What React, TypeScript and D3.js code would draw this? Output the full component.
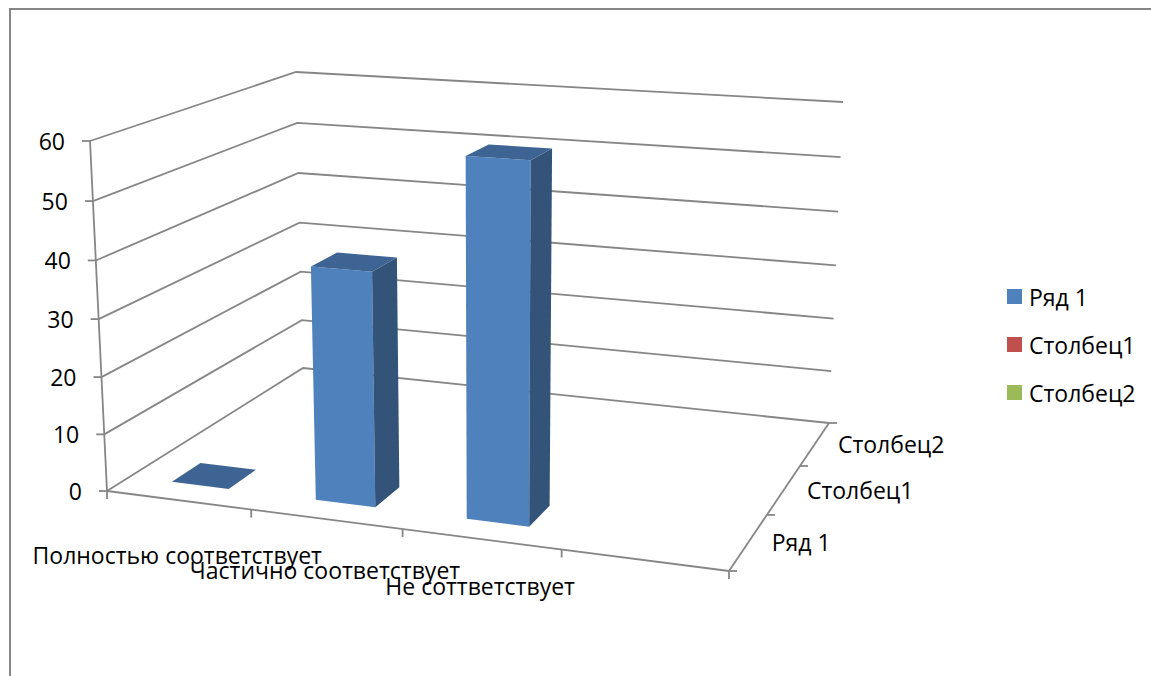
import React from "react";
import * as d3 from "d3";

const categories = ["Полностью соответствует", "Частично соответствует", "Не соттветствует", ""];
const seriesNames = ["Ряд 1", "Столбец1", "Столбец2"];
const seriesColors = ["#4F81BD", "#C0504D", "#9BBB59"];
const row1Values = [0, 40, 60];
const column1Values: number[] = [];
const column2Values: number[] = [];
const valueTicks = [0, 10, 20, 30, 40, 50, 60];

const W = 1151;
const H = 676;
const LINE = "#868686";
const FONT = "'Open Sans', sans-serif";
const FS = 23;

type P = [number, number];

// Unit square to quad: p0 (0,0), p1 (1,0), p2 (1,1), p3 (0,1)
function homography(p0: P, p1: P, p2: P, p3: P) {
  const dx1 = p1[0] - p2[0], dy1 = p1[1] - p2[1];
  const dx2 = p3[0] - p2[0], dy2 = p3[1] - p2[1];
  const sx = p0[0] - p1[0] + p2[0] - p3[0], sy = p0[1] - p1[1] + p2[1] - p3[1];
  const det = dx1 * dy2 - dx2 * dy1;
  const g = (sx * dy2 - dx2 * sy) / det;
  const h = (dx1 * sy - sx * dy1) / det;
  const a = p1[0] - p0[0] + g * p1[0], b = p3[0] - p0[0] + h * p3[0];
  const d = p1[1] - p0[1] + g * p1[1], e = p3[1] - p0[1] + h * p3[1];
  return (s: number, t: number): P => {
    const w = g * s + h * t + 1;
    return [(a * s + b * t + p0[0]) / w, (d * s + e * t + p0[1]) / w];
  };
}

const floor = homography([107, 491], [729, 571], [829, 423], [303, 368]);
const ceiling = homography([90, 141], [738, 184.5], [843, 102], [296, 72]);
const valueScale = d3.scaleLinear().domain([0, 60]).range([0, 1]);
const TILT = 0.035; // vertical foreshortening of the 3D view
const heightFraction = (v: number) => {
  const u = valueScale(v);
  return (u * (1 - TILT)) / (1 - TILT * u);
};
const project = (s: number, t: number, v: number): P => {
  const a = floor(s, t), b = ceiling(s, t), k = heightFraction(v);
  return [a[0] + (b[0] - a[0]) * k, a[1] + (b[1] - a[1]) * k];
};

const catBand = d3.scaleBand<string>().domain(categories).range([0, 1]).paddingInner(0.6).paddingOuter(0.3);
const serBand = d3.scaleBand<string>().domain(seriesNames).range([0, 1]).paddingInner(0.6).paddingOuter(0.3);
const catStep = catBand.step();
const serStep = serBand.step();
const labelY = d3.scaleLinear().domain([500, 539]).range([555, 586]);

const path = d3.line<P>();
const poly = (pts: P[]) => path(pts)! + "Z";

const textProps = { fontFamily: FONT, fontSize: FS, fill: "#000", dominantBaseline: "central" as const };

function Bar({ cat, value }: { cat: string; value: number }) {
  const s0 = catBand(cat)!, s1 = s0 + catBand.bandwidth();
  const t0 = serBand(seriesNames[0])!, t1 = t0 + serBand.bandwidth();
  const front = [project(s0, t0, 0), project(s1, t0, 0), project(s1, t0, value), project(s0, t0, value)];
  const side = [project(s1, t0, 0), project(s1, t1, 0), project(s1, t1, value), project(s1, t0, value)];
  const top = [project(s0, t0, value), project(s1, t0, value), project(s1, t1, value), project(s0, t1, value)];
  return (
    <g>
      {value > 0 && <path d={poly(front)} fill="#4F81BD" />}
      {value > 0 && <path d={poly(side)} fill="#335379" />}
      <path d={poly(top)} fill="#3E6494" />
    </g>
  );
}

export default function App() {
  const seg = (a: P, b: P, w = 1.8) => <path d={path([a, b])!} fill="none" stroke={LINE} strokeWidth={w} />;
  return (
    <svg width={W} height={H} viewBox={`0 0 ${W} ${H}`} style={{ position: "fixed", left: 0, top: 0, background: "#fff" }}>
      {/* frame */}
      <path d={path([[10, H], [10, 9], [W, 9]])!} fill="none" stroke={LINE} strokeWidth={2} />

      {/* walls: gridlines */}
      {valueTicks.map((v) => (
        <path
          key={v}
          d={path([project(0, 0, v), project(0, 1, v), project(1, 1, v)])!}
          fill="none"
          stroke={LINE}
          strokeWidth={1.8}
        />
      ))}
      {/* axes */}
      {seg(project(0, 0, 0), project(0, 0, 60))}
      {seg(project(0, 0, 0), project(1, 0, 0))}
      {seg(project(1, 0, 0), project(1, 1, 0))}

      {/* value ticks + labels */}
      {valueTicks.map((v) => {
        const [x, y] = project(0, 0, v);
        return (
          <g key={v}>
            {seg([x - 8, y], [x, y])}
            <text {...textProps} x={x - 25} y={y} textAnchor="end">{v}</text>
          </g>
        );
      })}

      {/* category ticks + labels */}
      {d3.range(categories.length + 1).map((i) => {
        const [x, y] = project(i * catStep, 0, 0);
        return <g key={i}>{seg([x, y], [x, y + 8])}</g>;
      })}
      {categories.map((c) => {
        const [x, y] = project(catBand(c)! + catBand.bandwidth() / 2, 0, 0);
        return c ? (
          <text key={c} {...textProps} x={x - 1} y={labelY(y)} textAnchor="middle">{c}</text>
        ) : null;
      })}

      {/* depth ticks + labels */}
      {d3.range(seriesNames.length + 1).map((i) => {
        const [x, y] = project(1, i * serStep, 0);
        return <g key={i}>{seg([x, y], [x + 8, y])}</g>;
      })}
      {seriesNames.map((n) => {
        const [x, y] = project(1, serBand(n)! + serBand.bandwidth() / 2, 0);
        return <text key={n} {...textProps} x={x + 23} y={y} textAnchor="start">{n}</text>;
      })}

      {/* bars */}
      {row1Values.map((v, i) => <Bar key={i} cat={categories[i]} value={v} />)}

      {/* legend */}
      {seriesNames.map((n, i) => {
        const y = d3.scaleLinear().domain([0, 2]).range([297, 393])(i);
        return (
          <g key={n}>
            <rect x={1007} y={y - 8} width={15} height={15} fill={seriesColors[i]} />
            <text {...textProps} x={1029} y={y} textAnchor="start">{n}</text>
          </g>
        );
      })}
    </svg>
  );
}
